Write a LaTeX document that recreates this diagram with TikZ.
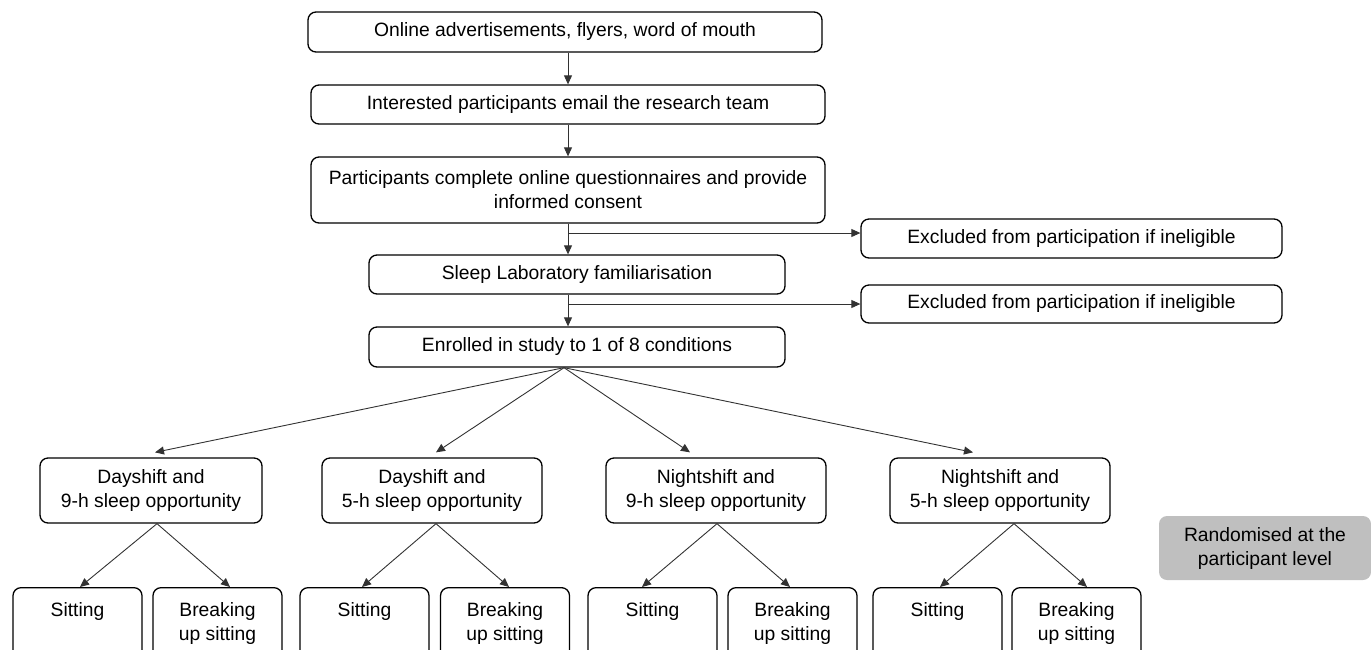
\documentclass[tikz,border=0pt]{standalone}
\usepackage{fontspec}
\setmainfont{Liberation Sans}
\usetikzlibrary{arrows.meta,calc}
\newcommand\myfs{\fontsize{19.3}{24}\selectfont}
\definecolor{linegray}{RGB}{50,50,50}
\definecolor{boxgray}{RGB}{191,191,191}
\begin{document}
\begin{tikzpicture}[x=1pt,y=-1pt,
  box/.style={draw=black,line width=1.3pt,rounded corners=8pt,inner sep=0pt,align=center,font=\myfs,text=black},
  subbox/.style={draw=black,line width=1.3pt,rounded corners=8pt,inner sep=0pt,minimum width=129pt,minimum height=95pt,anchor=north},
  subtxt/.style={inner sep=0pt,align=center,font=\myfs,anchor=north},
  greybox/.style={fill=boxgray,rounded corners=8pt,inner sep=0pt,align=center,font=\myfs,minimum width=212pt,minimum height=64pt},
  arr/.style={draw=linegray,line width=0.9pt,-{Triangle[length=9pt,width=8pt]}},
  ln/.style={draw=linegray,line width=0.9pt}
]
\useasboundingbox (0,0) rectangle (1371,649);
\clip (0,0) rectangle (1371,649);

% main column
\node[box,minimum width=514pt,minimum height=40pt] (n1) at (565,32) {Online advertisements, flyers, word of mouth};
\node[box,minimum width=514pt,minimum height=39pt] (n2) at (568,104.5) {Interested participants email the research team};
\node[box,minimum width=514pt,minimum height=66pt] (n3) at (568,190) {Participants complete online questionnaires and provide\\informed consent};
\node[box,minimum width=416pt,minimum height=39pt] (n4) at (577,274.5) {Sleep Laboratory familiarisation};
\node[box,minimum width=416pt,minimum height=40pt] (n5) at (577,347) {Enrolled in study to 1 of 8 conditions};

% exclusions
\node[box,minimum width=421pt,minimum height=39pt] (ex1) at (1071.5,238.5) {Excluded from participation if ineligible};
\node[box,minimum width=421pt,minimum height=38pt] (ex2) at (1071.5,304) {Excluded from participation if ineligible};

% conditions
\node[box,minimum width=222pt,minimum height=65pt] (A) at (151,490.5) {Dayshift and\\9-h sleep opportunity};
\node[box,minimum width=220pt,minimum height=65pt] (B) at (432,490.5) {Dayshift and\\5-h sleep opportunity};
\node[box,minimum width=220pt,minimum height=65pt] (C) at (716,490.5) {Nightshift and\\9-h sleep opportunity};
\node[box,minimum width=220pt,minimum height=65pt] (D) at (1000,490.5) {Nightshift and\\5-h sleep opportunity};

% sub boxes
\node[subbox] (A1) at (77.5,587) {};
\node[subbox] (A2) at (217.5,587) {};
\node[subbox] (B1) at (364.5,587) {};
\node[subbox] (B2) at (505,587) {};
\node[subbox] (C1) at (652.5,587) {};
\node[subbox] (C2) at (792.5,587) {};
\node[subbox] (D1) at (937.5,587) {};
\node[subbox] (D2) at (1076.5,587) {};
\foreach \s in {A1,B1,C1,D1}{
  \node[subtxt] (\s t) at ([yshift=-15pt]\s.north) {Sitting};
}
\foreach \s in {A2,B2,C2,D2}{
  \node[subtxt] (\s t) at ([yshift=-15pt]\s.north) {Breaking\\up sitting};
}

% randomised
\node[greybox] (R) at (1265,548) {Randomised at the\\participant level};

% connectors
\draw[arr] ([xshift=3pt]n1.south) -- (n2.north);
\draw[arr] (n2.south) -- (n3.north);
\coordinate (b1) at (568,233);
\coordinate (b2) at (568,304);
\draw[ln] (n3.south) -- (b1);
\draw[arr] (b1) -- (n3.south |- n4.north);
\draw[arr] (b1) -- (b1 -| ex1.west);
\draw[ln] (n4.south -| n3.south) -- (b2);
\draw[arr] (b2) -- (n3.south |- n5.north);
\draw[arr] (b2) -- (ex2.west);

\coordinate (apex) at ([xshift=-13pt]n5.south);
\draw[arr] (apex) -- ([xshift=4pt,yshift=5pt]A.north);
\draw[arr] (apex) -- ([xshift=4pt,yshift=5pt]B.north);
\draw[arr] (apex) -- ([xshift=-26pt,yshift=5pt]C.north);
\draw[arr] (apex) -- ([xshift=-27pt,yshift=5pt]D.north);

\draw[arr] ([xshift=6pt]A.south) -- ([xshift=2.5pt]A1.north);
\draw[arr] ([xshift=6pt]A.south) -- ([xshift=12.5pt]A2.north);
\draw[arr] ([xshift=4pt]B.south) -- ([xshift=-2.5pt]B1.north);
\draw[arr] ([xshift=4pt]B.south) -- ([xshift=4pt]B2.north);
\draw[arr] ([xshift=1pt]C.south) -- ([xshift=-10.5pt]C1.north);
\draw[arr] ([xshift=1pt]C.south) -- ([xshift=-2.5pt]C2.north);
\draw[arr] ([xshift=14pt]D.south) -- ([xshift=2.5pt]D1.north);
\draw[arr] ([xshift=14pt]D.south) -- ([xshift=10.5pt]D2.north);
\end{tikzpicture}
\end{document}
